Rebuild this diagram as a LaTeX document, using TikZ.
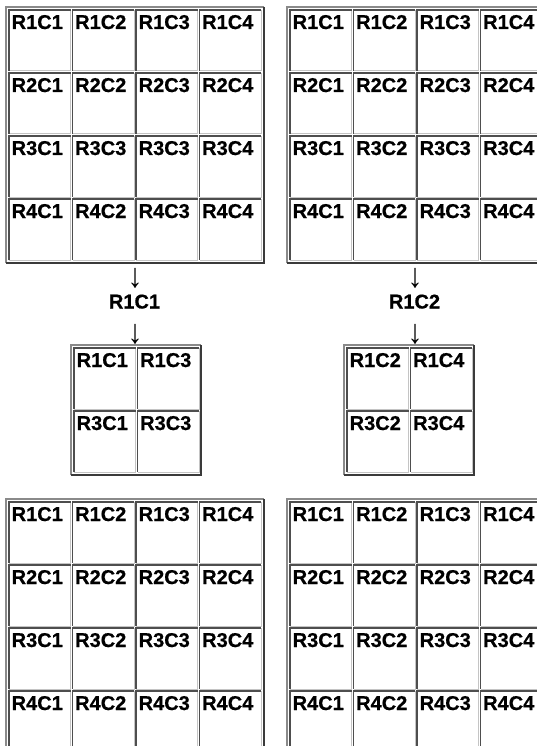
\documentclass[tikz,border=0pt]{standalone}
\usepackage{fontspec}
\setmainfont[BoldFeatures={FakeBold=0.6}]{Liberation Sans}
\usepackage{tikz}
\usetikzlibrary{positioning,calc}
\definecolor{framehi}{HTML}{8a8a8a}
\definecolor{framesh}{HTML}{3a3a3a}
\definecolor{cellsh}{HTML}{4e4e4e}
\definecolor{cellhi}{HTML}{c4c4c4}

\newcommand\tabframe[5]{%
  \coordinate (#1nw) at ({#2},{#3}); \coordinate (#1se) at ({#2+#4},{#3+#5});
  \draw[frhi](#1se -| #1nw)--(#1nw)--(#1nw -| #1se);
  \draw[frsh](#1nw -| #1se)--(#1se)--(#1se -| #1nw);}
\newcommand\tabcell[4]{%
  \node[cell](#1) at ({#2},{#3}){};
  \draw[clhi](#1.north east)--(#1.south east)--(#1.south west);
  \draw[clsh](#1.south west)--(#1.north west)--(#1.north east);
  \node[celltxt](#1t) at ([shift={(2.5pt,-19pt)}]#1.north west){#4};}
\newcommand\fulltab[3]{%
  \tabframe{#1}{#2}{#3}{258}{256}
  \foreach \r in {1,...,4}{\foreach \c in {1,...,4}{
    \tabcell{#1r\r c\c}{#2+3+(\c-1)*63.5}{#3+3+(\r-1)*63}{R\r C\c}}}}
\newcommand\downarr{\scalebox{1.5}[1.7]{↓}}

\begin{document}
\begin{tikzpicture}[x=1pt,y=-1pt,
  frhi/.style={line width=1.5pt, color=framehi},
  frsh/.style={line width=1.2pt, color=framesh},
  clhi/.style={line width=1pt, color=cellhi},
  clsh/.style={line width=1.3pt, color=cellsh},
  cell/.style={rectangle, anchor=north west, inner sep=0pt, outer sep=0pt,
               minimum width=61.5pt, minimum height=61pt},
  celltxt/.style={anchor=base west, inner sep=0pt, font=\fontsize{20}{24}\selectfont\bfseries},
  lbl/.style={anchor=base, inner sep=0pt, font=\fontsize{20}{24}\selectfont\bfseries},
  arw/.style={inner sep=0pt, font=\fontsize{20}{24}\selectfont},
]
  \clip (0,0) rectangle (537,746);
  % first table, row 3 printed with R3C3 twice
  \tabframe{tA}{6}{7}{258}{256}
  \foreach \r/\row in {1/{R1C1,R1C2,R1C3,R1C4},2/{R2C1,R2C2,R2C3,R2C4},
                       3/{R3C1,R3C3,R3C3,R3C4},4/{R4C1,R4C2,R4C3,R4C4}}{
    \foreach \txt [count=\c] in \row {
      \tabcell{tAr\r c\c}{9+(\c-1)*63.5}{10+(\r-1)*63}{\txt}}}
  \fulltab{tB}{287}{7}
  \node[arw](arA1) at (135,278.5){\downarr}; \node[lbl](lbA) at (134.5,308.5){R1C1};
  \node[arw](arA2) at (135,334){\downarr};
  \node[arw](arB1) at (415,278.5){\downarr}; \node[lbl](lbB) at (414.5,308.5){R1C2};
  \node[arw](arB2) at (415,334){\downarr};
  % the two picked 2x2 tables
  \tabframe{sA}{71}{345}{130}{130}
  \foreach \r/\row in {1/{R1C1,R1C3},2/{R3C1,R3C3}}{
    \foreach \txt [count=\c] in \row {
      \tabcell{sAr\r c\c}{74+(\c-1)*63.5}{348+(\r-1)*63}{\txt}}}
  \tabframe{sB}{344}{345}{130}{130}
  \foreach \r/\row in {1/{R1C2,R1C4},2/{R3C2,R3C4}}{
    \foreach \txt [count=\c] in \row {
      \tabcell{sBr\r c\c}{347+(\c-1)*63.5}{348+(\r-1)*63}{\txt}}}
  \fulltab{tC}{6}{499}
  \fulltab{tD}{287}{499}
\end{tikzpicture}
\end{document}
